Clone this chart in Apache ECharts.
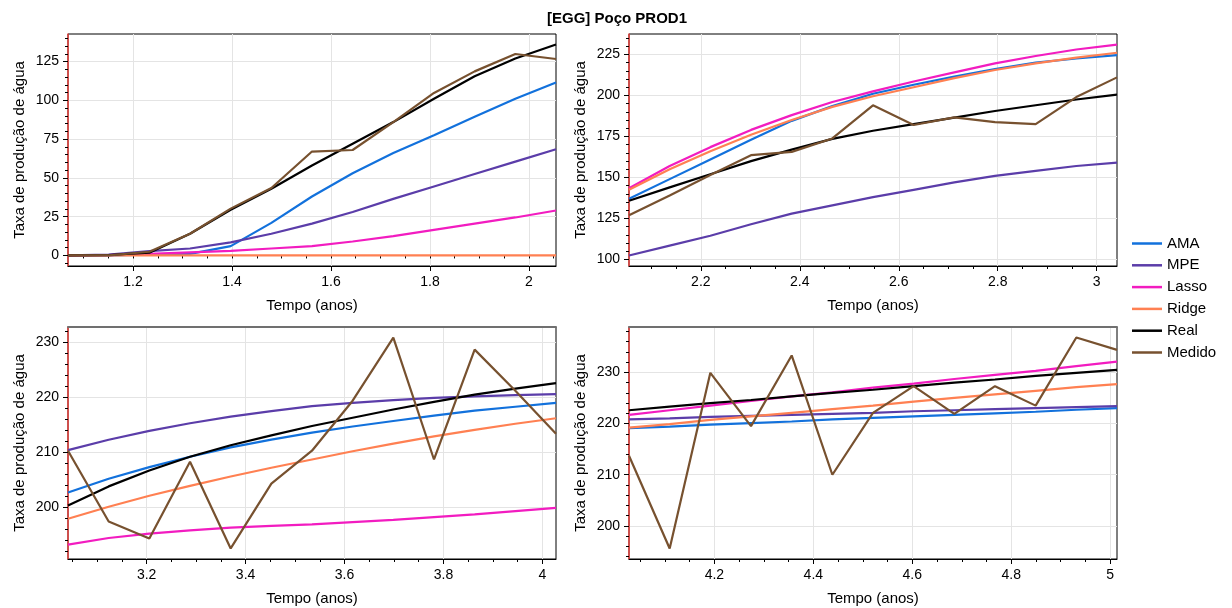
<!DOCTYPE html>
<html>
<head>
<meta charset="utf-8">
<script src="https://cdn.jsdelivr.net/npm/echarts@6/dist/echarts.min.js"></script>
<style>html,body{margin:0;padding:0;background:#fff}#c{width:1232px;height:608px}</style>
</head>
<body>
<div id="c"></div>
<script>
// ---- data ----
const seriesNames = ['AMA', 'MPE', 'Lasso', 'Ridge', 'Real', 'Medido'];
const seriesColors = ['#1271dc', '#5b3da9', '#f21cc0', '#ff8052', '#000000', '#77512f'];

const tempo1 = [1.0685, 1.1507, 1.2329, 1.3151, 1.3973, 1.4795, 1.5616, 1.6438, 1.7260, 1.8082, 1.8904, 1.9726, 2.0548];
const tempo2 = [2.0548, 2.1370, 2.2192, 2.3014, 2.3836, 2.4658, 2.5479, 2.6301, 2.7123, 2.7945, 2.8767, 2.9589, 3.0411];
const tempo3 = [3.0411, 3.1233, 3.2055, 3.2877, 3.3699, 3.4521, 3.5342, 3.6164, 3.6986, 3.7808, 3.8630, 3.9452, 4.0274];
const tempo4 = [4.0274, 4.1096, 4.1918, 4.2740, 4.3562, 4.4384, 4.5205, 4.6027, 4.6849, 4.7671, 4.8493, 4.9315, 5.0137];

// panel 1
const ama1    = [0, 0, 0.5, 1, 6, 21, 38, 53, 66, 77.5, 89.5, 101, 111.5];
const mpe1    = [0, 0.5, 2.8, 4.5, 8.4, 14, 20.5, 28, 36.5, 44.5, 52.5, 60.5, 68.5];
const lasso1  = [0, 0.2, 1, 2, 3, 4.5, 6, 9, 12.5, 16.5, 20.5, 24.5, 29];
const ridge1  = [0, 0, 0, 0, 0, 0, 0, 0, 0, 0, 0, 0, 0];
const real1   = [0, 0.3, 1.8, 14, 29.5, 43, 58, 72, 86, 101, 115.5, 127, 136];
const medido1 = [0, 0, 2.4, 14, 30.2, 43.5, 67, 68, 86, 104.8, 118.7, 129.9, 126.7];
// panel 2
const ama2    = [137, 149, 161, 173, 184.5, 193.5, 201, 206.5, 211.5, 216, 220, 222.5, 224.5];
const mpe2    = [102.5, 108.5, 114.5, 121.5, 128, 133, 138, 142.5, 147, 151, 154, 157, 159];
const lasso2  = [143.5, 157, 168.5, 179, 188, 196, 202.5, 208.5, 214, 219.5, 224, 228, 231];
const ridge2  = [142.5, 155, 166, 176, 185, 193, 199.5, 205, 210.5, 215.5, 219.5, 223, 226];
const real2   = [135.8, 144, 152, 160, 167, 173.5, 178.5, 182.5, 186.5, 190.5, 194, 197.5, 200.5];
const medido2 = [127, 139, 151.5, 163.6, 165.6, 173.8, 194, 182, 186.6, 183.7, 182.5, 199, 211];
// panel 3
const ama3    = [202.7, 205.2, 207.3, 209.2, 210.9, 212.3, 213.6, 214.7, 215.7, 216.7, 217.6, 218.3, 219.0];
const mpe3    = [210.4, 212.3, 213.9, 215.3, 216.5, 217.5, 218.4, 219.0, 219.5, 219.9, 220.2, 220.4, 220.6];
const lasso3  = [193.2, 194.4, 195.2, 195.8, 196.3, 196.6, 196.9, 197.3, 197.7, 198.2, 198.7, 199.3, 199.9];
const ridge3  = [197.9, 200.1, 202.1, 203.9, 205.6, 207.2, 208.7, 210.2, 211.6, 212.9, 214.1, 215.2, 216.2];
const real3   = [200.3, 203.8, 206.7, 209.2, 211.3, 213.1, 214.8, 216.3, 217.8, 219.2, 220.5, 221.6, 222.6];
const medido3 = [210.3, 197.4, 194.3, 208.3, 192.5, 204.3, 210.3, 219.4, 230.9, 208.7, 228.7, 221.2, 213.4];
// panel 4
const ama4    = [219.1, 219.4, 219.8, 220.1, 220.4, 220.8, 221.1, 221.4, 221.7, 222.0, 222.3, 222.7, 223.0];
const mpe4    = [220.8, 221.0, 221.3, 221.5, 221.7, 221.9, 222.1, 222.4, 222.6, 222.8, 223.0, 223.2, 223.4];
const lasso4  = [221.7, 222.6, 223.5, 224.4, 225.3, 226.1, 227.0, 227.8, 228.7, 229.5, 230.3, 231.2, 232.1];
const ridge4  = [219.2, 219.9, 220.7, 221.4, 222.1, 222.8, 223.5, 224.3, 225.0, 225.7, 226.4, 227.1, 227.7];
const real4   = [222.6, 223.3, 224.0, 224.6, 225.3, 226.0, 226.6, 227.3, 228.0, 228.6, 229.3, 229.9, 230.5];
const medido4 = [213.7, 195.6, 229.9, 219.5, 233.3, 210.0, 222.1, 227.3, 221.9, 227.3, 223.5, 236.8, 234.4];

// tick labels
const xTicks1 = [1.2, 1.4, 1.6, 1.8, 2];
const xTicks2 = [2.2, 2.4, 2.6, 2.8, 3];
const xTicks3 = [3.2, 3.4, 3.6, 3.8, 4];
const xTicks4 = [4.2, 4.4, 4.6, 4.8, 5];
const yTicks1 = [0, 25, 50, 75, 100, 125];
const yTicks2 = [100, 125, 150, 175, 200, 225];
const yTicks3 = [200, 210, 220, 230];
const yTicks4 = [200, 210, 220, 230];

const title = '[EGG] Poço PROD1';
const xName = 'Tempo (anos)';
const yName = 'Taxa de produção de água';

// ---- build ----
const panels = [
  {t: tempo1, d: [ama1, mpe1, lasso1, ridge1, real1, medido1], xt: xTicks1, yt: yTicks1, xMinor: 0.05, yMinor: 5},
  {t: tempo2, d: [ama2, mpe2, lasso2, ridge2, real2, medido2], xt: xTicks2, yt: yTicks2, xMinor: 0.05, yMinor: 5},
  {t: tempo3, d: [ama3, mpe3, lasso3, ridge3, real3, medido3], xt: xTicks3, yt: yTicks3, xMinor: 0.05, yMinor: 2},
  {t: tempo4, d: [ama4, mpe4, lasso4, ridge4, real4, medido4], xt: xTicks4, yt: yTicks4, xMinor: 0.05, yMinor: 2}
];
const gridPos = [
  {left: 68, top: 34}, {left: 629, top: 34}, {left: 68, top: 327}, {left: 629, top: 327}
];
const FONT = 'Liberation Sans, Arial, sans-serif';

function minorList(lo, hi, step) {
  const out = [];
  const s = Math.ceil(lo / step - 1e-9);
  for (let k = s; k * step <= hi + 1e-9; k++) out.push(+(k * step).toFixed(6));
  return out;
}

const grids = [], xAxes = [], yAxes = [], series = [];
panels.forEach((p, i) => {
  grids.push({left: gridPos[i].left, top: gridPos[i].top, width: 488, height: 232,
    show: true, borderColor: '#000', borderWidth: 1, backgroundColor: 'transparent'});
  const xmin = p.t[0], xmax = p.t[p.t.length - 1];
  let lo = Infinity, hi = -Infinity;
  p.d.forEach(a => a.forEach(v => { lo = Math.min(lo, v); hi = Math.max(hi, v); }));
  const pad = (hi - lo) * 0.05;
  const ymin = lo - pad, ymax = hi + pad;
  const xi = xAxes.length, yi = yAxes.length;
  xAxes.push({
    type: 'value', gridIndex: i, min: xmin, max: xmax, position: 'bottom',
    name: xName, nameLocation: 'middle', nameGap: 32,
    nameTextStyle: {fontFamily: FONT, fontSize: 15, color: '#000'},
    axisLine: {show: true, onZero: false, lineStyle: {color: '#000', width: 1}},
    axisTick: {show: true, inside: false, length: 5, customValues: p.xt, lineStyle: {color: '#000'}},
    axisLabel: {show: true, customValues: p.xt, margin: 9, fontFamily: FONT, fontSize: 14, color: '#000'},
    splitLine: {show: true, lineStyle: {color: '#e4e4e4', width: 1}},
    minorTick: {show: false}
  });
  xAxes.push({
    type: 'value', gridIndex: i, min: xmin, max: xmax, position: 'bottom',
    axisLine: {show: false},
    axisTick: {show: true, inside: false, length: 3, customValues: minorList(xmin, xmax, p.xMinor), lineStyle: {color: '#000'}},
    axisLabel: {show: false}, splitLine: {show: false}
  });
  if (i >= 2) {
    xAxes.push({
      type: 'value', gridIndex: i, min: xmin, max: xmax, position: 'top',
      axisLine: {show: true, onZero: false, lineStyle: {color: '#707070', width: 2}},
      axisTick: {show: false}, axisLabel: {show: false}, splitLine: {show: false}
    });
  }
  yAxes.push({
    type: 'value', gridIndex: i, min: ymin, max: ymax, position: 'left',
    name: yName, nameLocation: 'middle', nameGap: 41, nameRotate: 90,
    nameTextStyle: {fontFamily: FONT, fontSize: 15, color: '#000'},
    axisLine: {show: true, onZero: false, lineStyle: {color: '#e8413c', width: 1.5}},
    axisTick: {show: true, inside: false, length: 5, customValues: p.yt, lineStyle: {color: '#000'}},
    axisLabel: {show: true, customValues: p.yt, margin: 9, fontFamily: FONT, fontSize: 14, color: '#000'},
    splitLine: {show: true, lineStyle: {color: '#e4e4e4', width: 1}}
  });
  yAxes.push({
    type: 'value', gridIndex: i, min: ymin, max: ymax, position: 'left',
    axisLine: {show: false},
    axisTick: {show: true, inside: false, length: 3, customValues: minorList(ymin, ymax, p.yMinor), lineStyle: {color: '#000'}},
    axisLabel: {show: false}, splitLine: {show: false}
  });
  seriesNames.forEach((nm, k) => {
    series.push({
      type: 'line', name: nm, xAxisIndex: xi, yAxisIndex: yi,
      data: p.t.map((tv, j) => [tv, p.d[k][j]]),
      showSymbol: false, symbol: 'none', animation: false,
      lineStyle: {color: seriesColors[k], width: 2.2},
      itemStyle: {color: seriesColors[k]},
      z: 3 + k
    });
  });
});

const chart = echarts.init(document.getElementById('c'), null, {renderer: 'canvas'});
chart.setOption({
  animation: false,
  backgroundColor: '#fff',
  title: {text: title, left: 542, top: 6,
    textStyle: {fontFamily: FONT, fontSize: 15, fontWeight: 'bold', color: '#000'}},
  legend: {
    data: seriesNames, orient: 'vertical', left: 1127, top: 231,
    icon: 'rect', itemWidth: 30, itemHeight: 2.5, itemGap: 6.8,
    textStyle: {fontFamily: FONT, fontSize: 15, color: '#000'}
  },
  grid: grids, xAxis: xAxes, yAxis: yAxes, series: series
});
</script>
</body>
</html>
